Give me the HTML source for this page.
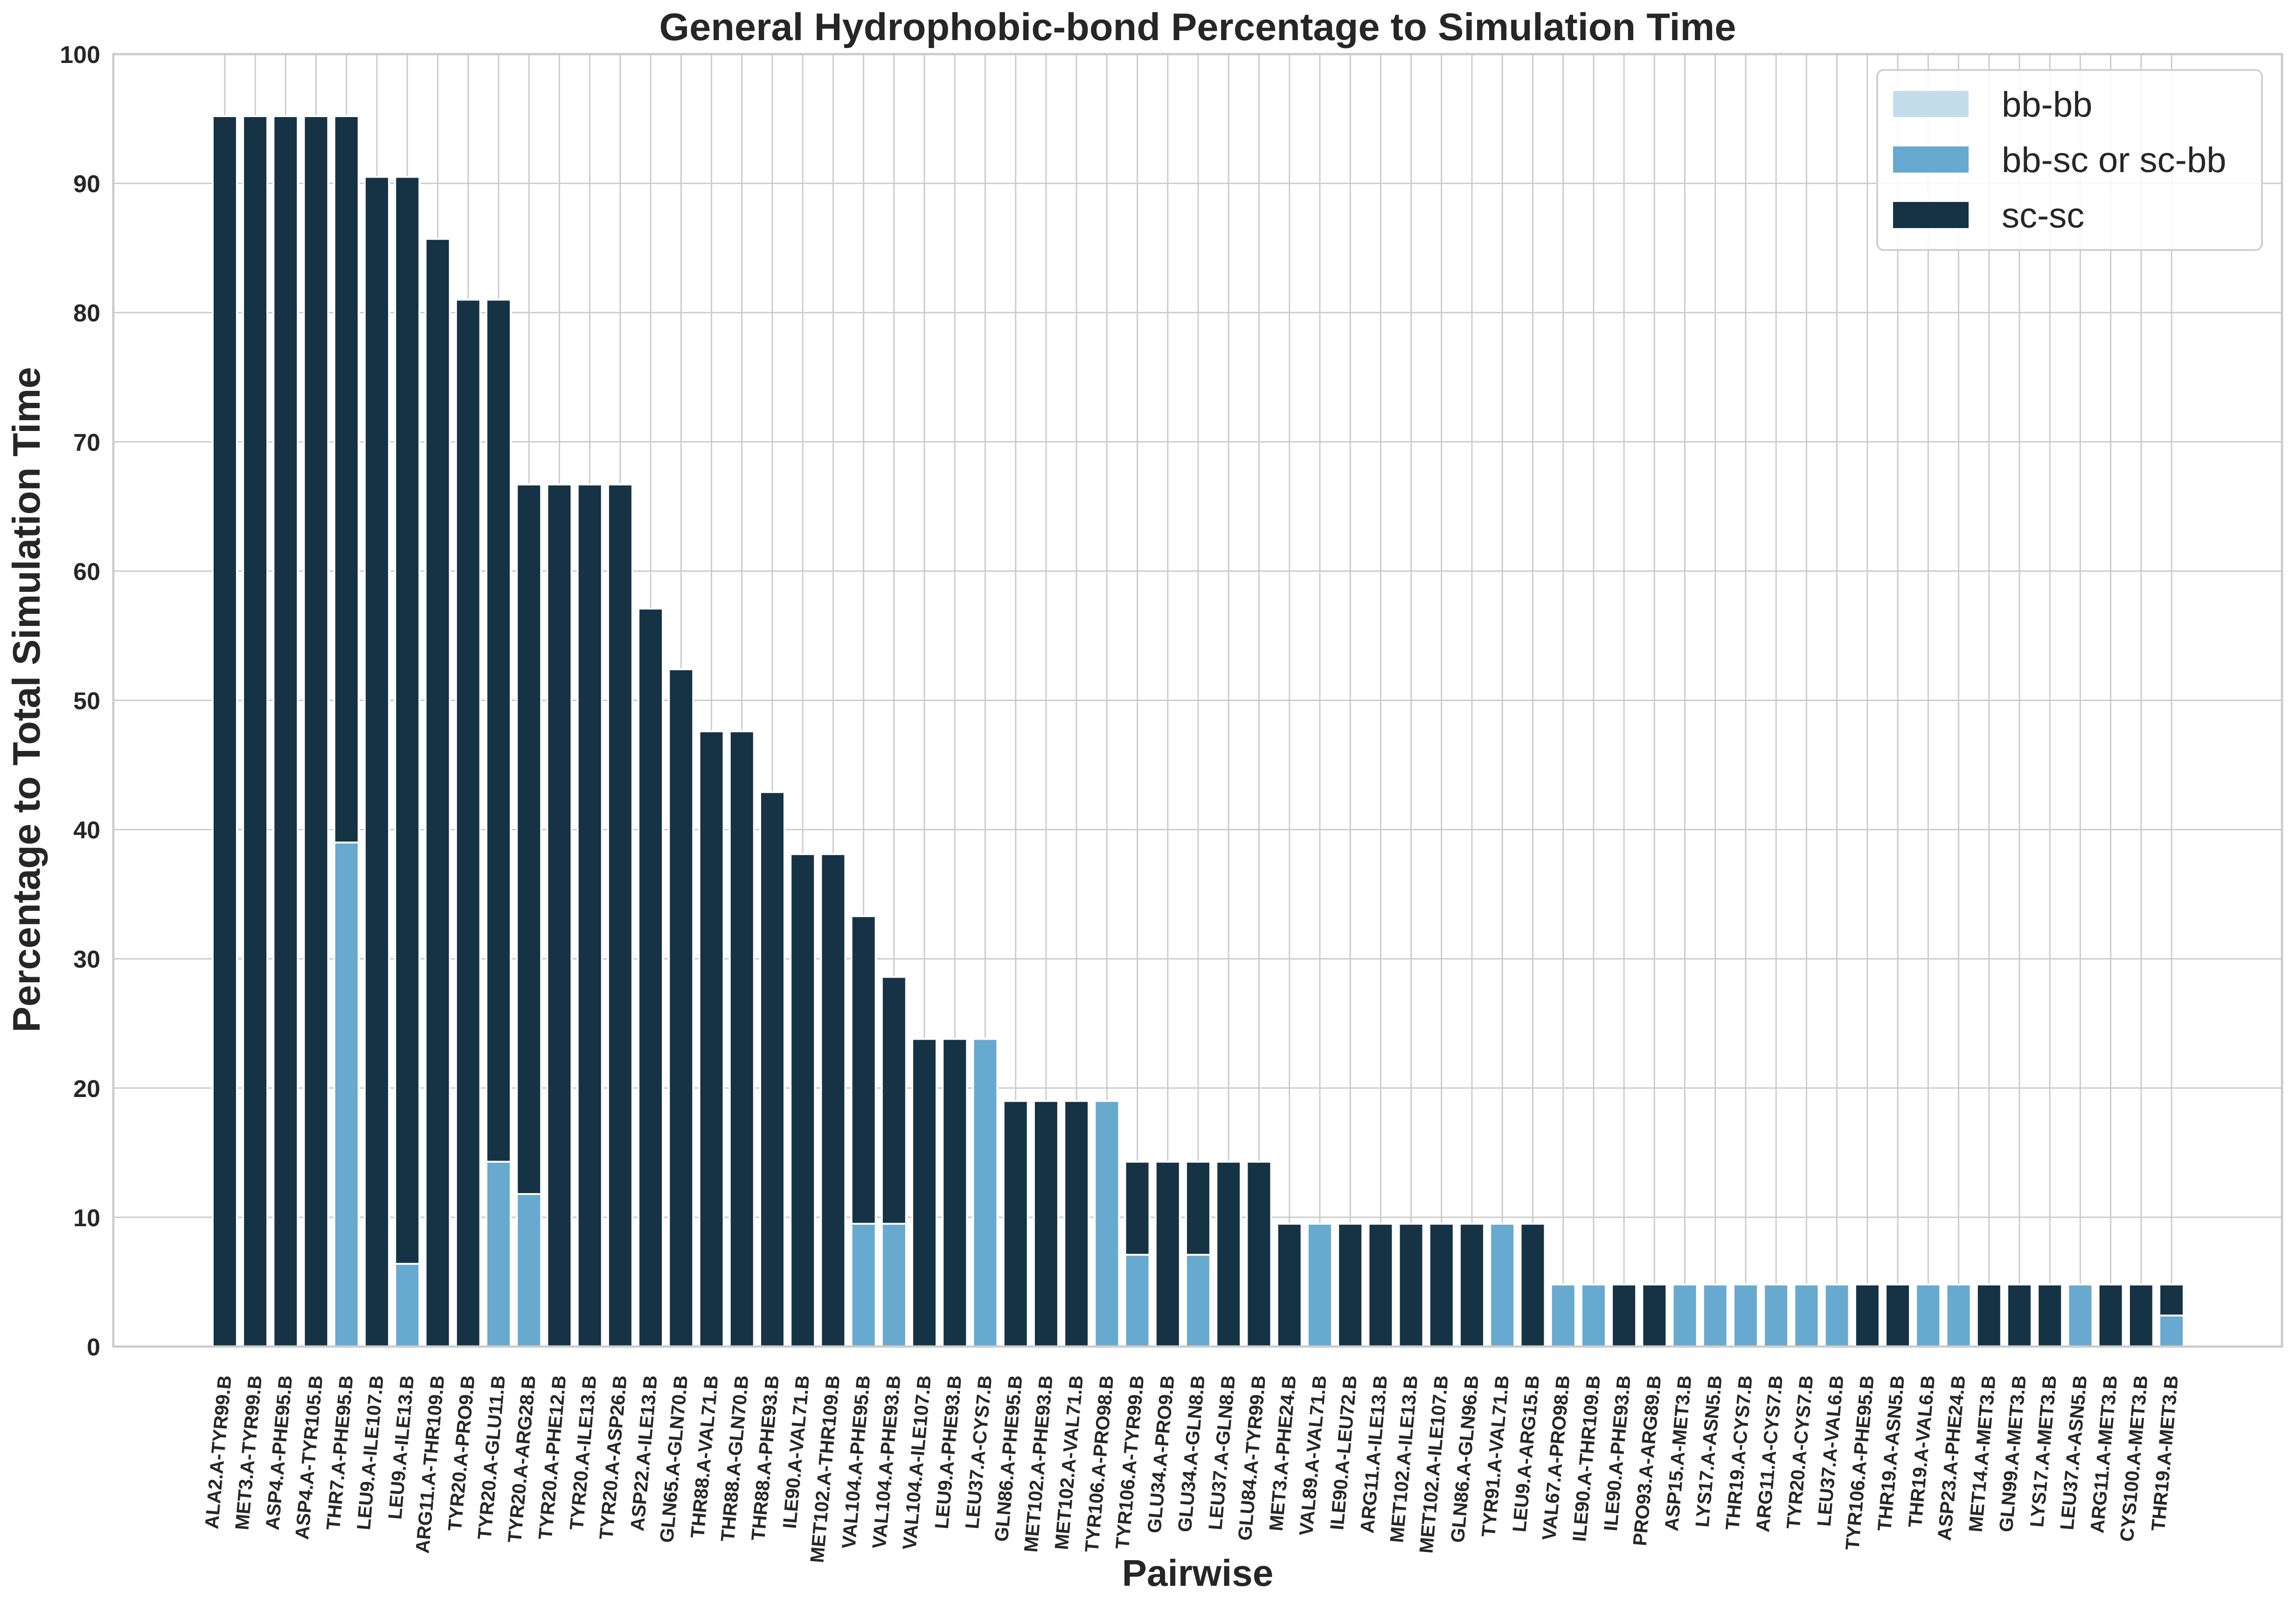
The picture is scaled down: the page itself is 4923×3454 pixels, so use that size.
<!DOCTYPE html>
<html><head><meta charset="utf-8"><style>
html,body{margin:0;padding:0;background:#fff;}
svg text{font-family:"Liberation Sans",Arial,sans-serif;fill:#262626;}
</style></head><body>
<svg id="chart" xmlns="http://www.w3.org/2000/svg" width="4923" height="3449" viewBox="0 0 4923 3449">
<rect x="0" y="0" width="4923" height="3449" fill="#fff"/>
<g id="grid"></g>
<g id="bars"></g>
<rect x="243" y="116" width="4650" height="2771" fill="none" stroke="#cccccc" stroke-width="5"/>
<g id="yticks"></g>
<g id="xticks"></g>
<text x="2568" y="86" font-size="83" font-weight="bold" text-anchor="middle">General Hydrophobic-bond Percentage to Simulation Time</text>
<text x="0" y="0" font-size="83" font-weight="bold" text-anchor="middle" transform="translate(85,1500) rotate(-90)">Percentage to Total Simulation Time</text>
<text x="2568" y="3400" font-size="80" font-weight="bold" text-anchor="middle">Pairwise</text>
<g>
<rect x="4025" y="150" width="825" height="386" rx="14" fill="#fff" fill-opacity="0.85" stroke="#d0d0d0" stroke-width="4"/>
<rect x="4059" y="195" width="162" height="56" fill="#c3dcea"/>
<text x="4292" y="250" font-size="76">bb-bb</text>
<rect x="4059" y="314" width="162" height="56" fill="#68a9cf"/>
<text x="4292" y="369" font-size="76">bb-sc or sc-bb</text>
<rect x="4059" y="433" width="162" height="56" fill="#163245"/>
<text x="4292" y="488" font-size="76">sc-sc</text>
</g>
</svg>
<script>
const categories = ["ALA2.A-TYR99.B","MET3.A-TYR99.B","ASP4.A-PHE95.B","ASP4.A-TYR105.B","THR7.A-PHE95.B","LEU9.A-ILE107.B","LEU9.A-ILE13.B","ARG11.A-THR109.B","TYR20.A-PRO9.B","TYR20.A-GLU11.B","TYR20.A-ARG28.B","TYR20.A-PHE12.B","TYR20.A-ILE13.B","TYR20.A-ASP26.B","ASP22.A-ILE13.B","GLN65.A-GLN70.B","THR88.A-VAL71.B","THR88.A-GLN70.B","THR88.A-PHE93.B","ILE90.A-VAL71.B","MET102.A-THR109.B","VAL104.A-PHE95.B","VAL104.A-PHE93.B","VAL104.A-ILE107.B","LEU9.A-PHE93.B","LEU37.A-CYS7.B","GLN86.A-PHE95.B","MET102.A-PHE93.B","MET102.A-VAL71.B","TYR106.A-PRO98.B","TYR106.A-TYR99.B","GLU34.A-PRO9.B","GLU34.A-GLN8.B","LEU37.A-GLN8.B","GLU84.A-TYR99.B","MET3.A-PHE24.B","VAL89.A-VAL71.B","ILE90.A-LEU72.B","ARG11.A-ILE13.B","MET102.A-ILE13.B","MET102.A-ILE107.B","GLN86.A-GLN96.B","TYR91.A-VAL71.B","LEU9.A-ARG15.B","VAL67.A-PRO98.B","ILE90.A-THR109.B","ILE90.A-PHE93.B","PRO93.A-ARG89.B","ASP15.A-MET3.B","LYS17.A-ASN5.B","THR19.A-CYS7.B","ARG11.A-CYS7.B","TYR20.A-CYS7.B","LEU37.A-VAL6.B","TYR106.A-PHE95.B","THR19.A-ASN5.B","THR19.A-VAL6.B","ASP23.A-PHE24.B","MET14.A-MET3.B","GLN99.A-MET3.B","LYS17.A-MET3.B","LEU37.A-ASN5.B","ARG11.A-MET3.B","CYS100.A-MET3.B","THR19.A-MET3.B"];
const bbbb = [0,0,0,0,0,0,0,0,0,0,0,0,0,0,0,0,0,0,0,0,0,0,0,0,0,0,0,0,0,0,0,0,0,0,0,0,0,0,0,0,0,0,0,0,0,0,0,0,0,0,0,0,0,0,0,0,0,0,0,0,0,0,0,0,0];
const bbsc = [0,0,0,0,39.0,0,6.4,0,0,14.3,11.8,0,0,0,0,0,0,0,0,0,0,9.5,9.5,0,0,23.8,0,0,0,19.0,7.1,0,7.1,0,0,0,9.5,0,0,0,0,0,9.5,0,4.8,4.8,0,0,4.8,4.8,4.8,4.8,4.8,4.8,0,0,4.8,4.8,0,0,0,4.8,0,0,2.4];
const scsc = [95.2,95.2,95.2,95.2,56.2,90.5,84.1,85.7,81.0,66.7,54.9,66.7,66.7,66.7,57.1,52.4,47.6,47.6,42.9,38.1,38.1,23.8,19.1,23.8,23.8,0,19.0,19.0,19.0,0,7.2,14.3,7.2,14.3,14.3,9.5,0,9.5,9.5,9.5,9.5,9.5,0,9.5,0,0,4.8,4.8,0,0,0,0,0,0,4.8,4.8,0,0,4.8,4.8,4.8,0,4.8,4.8,2.4];
const yTicks = [0,10,20,30,40,50,60,70,80,90,100];

const NS = "http://www.w3.org/2000/svg";
const X0 = 482, DX = 65.22, Y0 = 2887, YTOP = 116, LEFT = 243, RIGHT = 4893;
function xs(i){ return X0 + i*DX; }
function ys(v){ return Y0 - v*(Y0-YTOP)/100; }
function mk(tag, attrs, parent){ const e=document.createElementNS(NS,tag); for(const k in attrs) e.setAttribute(k,attrs[k]); parent.appendChild(e); return e; }

const grid = document.getElementById('grid');
yTicks.forEach(t=>{
  const l = mk('line',{x1:LEFT,x2:RIGHT,y1:ys(t),y2:ys(t),stroke:'#cccccc','stroke-width':3},grid);
  
  
  const tx = mk('text',{x:215,y:ys(t)+19,'font-size':52,'font-weight':'bold','text-anchor':'end'},document.getElementById('yticks'));
  tx.textContent = t;
  
  
});
categories.forEach((c,i)=>{
  const l = mk('line',{x1:xs(i),x2:xs(i),y1:YTOP,y2:Y0,stroke:'#cccccc','stroke-width':3},grid);
  
  
});
const barsG = document.getElementById('bars');
const W = 52;
categories.forEach((c,i)=>{
  const series = [[bbbb[i],'#c3dcea','bar-bb-bb'],[bbsc[i],'#68a9cf','bar-bb-sc'],[scsc[i],'#163245','bar-sc-sc']];
  let base = 0;
  series.forEach(s=>{
    if(s[0] > 0){
      const r = mk('rect',{x:xs(i)-W/2,y:ys(base+s[0]),width:W,height:ys(base)-ys(base+s[0]),fill:s[1],stroke:'#fff','stroke-width':4},barsG);
      
      
    }
    base += s[0];
  });
  const t = mk('text',{x:0,y:0,'font-size':41,'font-weight':'bold','text-anchor':'end',transform:`translate(${xs(i)+14},2950) rotate(-85)`},document.getElementById('xticks'));
  t.textContent = c;
  
  
});
</script>
</body></html>
